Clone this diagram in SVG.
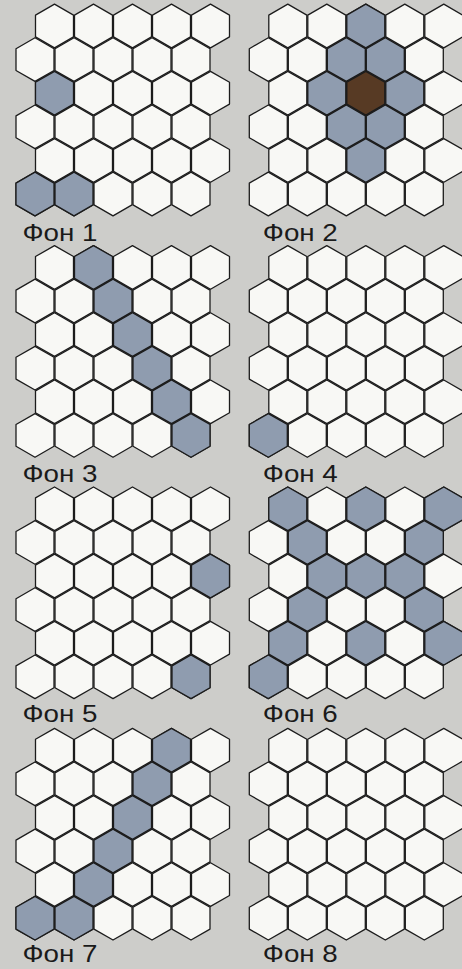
<svg xmlns="http://www.w3.org/2000/svg" xmlns:xlink="http://www.w3.org/1999/xlink" width="462" height="969" viewBox="0 0 462 969">
<style>
.w{fill:#f8f8f5}
.g{fill:#8f9caf}
.b{fill:#573a24}
.hx{stroke:#1c1c1c;stroke-width:1.3;stroke-linejoin:round}
.lbl{font-family:"Liberation Sans",Arial,sans-serif;font-size:24.5px;fill:#1a1a1a}
</style>
<defs>
<polygon id="h" class="hx" points="0,-21.83 19,-10.91 19,10.91 0,21.83 -19,10.91 -19,-10.91"/>
<g id="grid" class="w">
<use href="#h" x="0" y="0"/><use href="#h" x="39" y="0"/><use href="#h" x="78" y="0"/><use href="#h" x="117" y="0"/><use href="#h" x="156" y="0"/>
<use href="#h" x="-19.5" y="33.6"/><use href="#h" x="19.5" y="33.6"/><use href="#h" x="58.5" y="33.6"/><use href="#h" x="97.5" y="33.6"/><use href="#h" x="136.5" y="33.6"/>
<use href="#h" x="0" y="67.2"/><use href="#h" x="39" y="67.2"/><use href="#h" x="78" y="67.2"/><use href="#h" x="117" y="67.2"/><use href="#h" x="156" y="67.2"/>
<use href="#h" x="-19.5" y="100.8"/><use href="#h" x="19.5" y="100.8"/><use href="#h" x="58.5" y="100.8"/><use href="#h" x="97.5" y="100.8"/><use href="#h" x="136.5" y="100.8"/>
<use href="#h" x="0" y="134.4"/><use href="#h" x="39" y="134.4"/><use href="#h" x="78" y="134.4"/><use href="#h" x="117" y="134.4"/><use href="#h" x="156" y="134.4"/>
<use href="#h" x="-19.5" y="168"/><use href="#h" x="19.5" y="168"/><use href="#h" x="58.5" y="168"/><use href="#h" x="97.5" y="168"/><use href="#h" x="136.5" y="168"/>
</g>
</defs>
<rect width="462" height="969" fill="#cdcdca"/>

<g id="panel1" transform="translate(54.5,26)">
<use href="#grid"/>
<use href="#h" class="g" x="0" y="67.2"/><use href="#h" class="g" x="-19.5" y="168"/><use href="#h" class="g" x="19.5" y="168"/>
<text class="lbl" x="-32" y="215" textLength="75" lengthAdjust="spacingAndGlyphs">Фон 1</text>
</g>

<g id="panel2" transform="translate(287.8,26)">
<use href="#grid"/>
<use href="#h" class="g" x="78" y="0"/>
<use href="#h" class="g" x="58.5" y="33.6"/><use href="#h" class="g" x="97.5" y="33.6"/>
<use href="#h" class="g" x="39" y="67.2"/><use href="#h" class="b" x="78" y="67.2"/><use href="#h" class="g" x="117" y="67.2"/>
<use href="#h" class="g" x="58.5" y="100.8"/><use href="#h" class="g" x="97.5" y="100.8"/>
<use href="#h" class="g" x="78" y="134.4"/>
<text class="lbl" x="-25" y="215" textLength="75" lengthAdjust="spacingAndGlyphs">Фон 2</text>
</g>

<g id="panel3" transform="translate(54.5,267.4)">
<use href="#grid"/>
<use href="#h" class="g" x="39" y="0"/><use href="#h" class="g" x="58.5" y="33.6"/><use href="#h" class="g" x="78" y="67.2"/>
<use href="#h" class="g" x="97.5" y="100.8"/><use href="#h" class="g" x="117" y="134.4"/><use href="#h" class="g" x="136.5" y="168"/>
<text class="lbl" x="-32" y="214.6" textLength="75" lengthAdjust="spacingAndGlyphs">Фон 3</text>
</g>

<g id="panel4" transform="translate(287.8,267.4)">
<use href="#grid"/>
<use href="#h" class="g" x="-19.5" y="168"/>
<text class="lbl" x="-25" y="214.6" textLength="75" lengthAdjust="spacingAndGlyphs">Фон 4</text>
</g>

<g id="panel5" transform="translate(54.5,508.8)">
<use href="#grid"/>
<use href="#h" class="g" x="156" y="67.2"/><use href="#h" class="g" x="136.5" y="168"/>
<text class="lbl" x="-32" y="213.7" textLength="75" lengthAdjust="spacingAndGlyphs">Фон 5</text>
</g>

<g id="panel6" transform="translate(287.8,508.8)">
<use href="#grid"/>
<use href="#h" class="g" x="0" y="0"/><use href="#h" class="g" x="78" y="0"/><use href="#h" class="g" x="156" y="0"/>
<use href="#h" class="g" x="19.5" y="33.6"/><use href="#h" class="g" x="136.5" y="33.6"/>
<use href="#h" class="g" x="39" y="67.2"/><use href="#h" class="g" x="78" y="67.2"/><use href="#h" class="g" x="117" y="67.2"/>
<use href="#h" class="g" x="19.5" y="100.8"/><use href="#h" class="g" x="136.5" y="100.8"/>
<use href="#h" class="g" x="0" y="134.4"/><use href="#h" class="g" x="78" y="134.4"/><use href="#h" class="g" x="156" y="134.4"/>
<use href="#h" class="g" x="-19.5" y="168"/>
<text class="lbl" x="-25" y="213.7" textLength="75" lengthAdjust="spacingAndGlyphs">Фон 6</text>
</g>

<g id="panel7" transform="translate(54.5,750.2)">
<use href="#grid"/>
<use href="#h" class="g" x="117" y="0"/><use href="#h" class="g" x="97.5" y="33.6"/><use href="#h" class="g" x="78" y="67.2"/>
<use href="#h" class="g" x="58.5" y="100.8"/><use href="#h" class="g" x="39" y="134.4"/><use href="#h" class="g" x="-19.5" y="168"/><use href="#h" class="g" x="19.5" y="168"/>
<text class="lbl" x="-32" y="211.8" textLength="75" lengthAdjust="spacingAndGlyphs">Фон 7</text>
</g>

<g id="panel8" transform="translate(287.8,750.2)">
<use href="#grid"/>
<text class="lbl" x="-25" y="211.8" textLength="75" lengthAdjust="spacingAndGlyphs">Фон 8</text>
</g>
</svg>
